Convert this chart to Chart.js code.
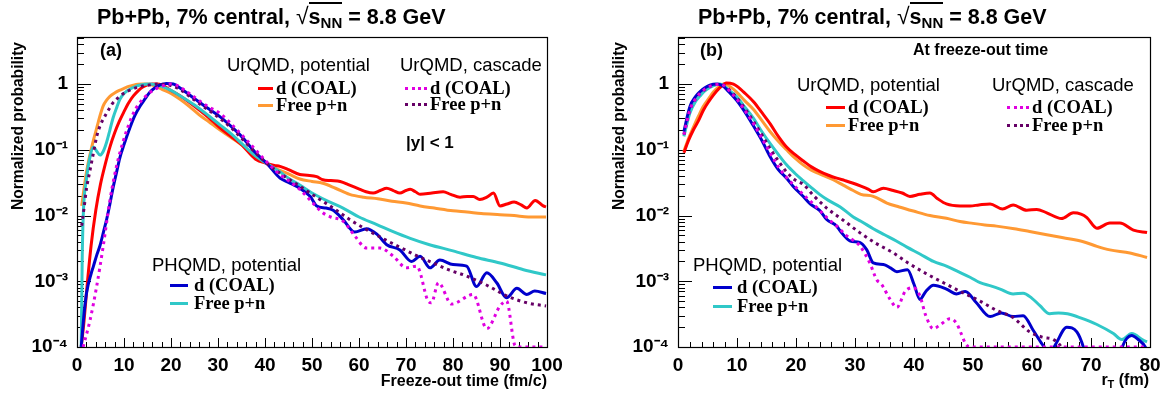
<!DOCTYPE html>
<html><head><meta charset="utf-8">
<script src="https://cdn.jsdelivr.net/npm/chart.js@4.4.1/dist/chart.umd.min.js"></script>
<style>
body{margin:0;background:#fff;width:1173px;height:398px;overflow:hidden;position:relative;font-family:"Liberation Sans",Arial,sans-serif;color:#000}
.pnl{position:absolute;top:0;height:398px}
.t{position:absolute;white-space:nowrap;z-index:5}
.sans{font-family:"Liberation Sans",Arial,sans-serif}
.serif{font-family:"Liberation Serif","Times New Roman",serif;font-weight:bold}
.b{font-weight:bold}
.smp{position:absolute;z-index:5;height:0}
</style></head>
<body>
<div class="pnl" style="left:0;width:586px"><canvas id="c1" width="586" height="398"></canvas></div>
<div class="pnl" style="left:586px;width:587px"><canvas id="c2" width="587" height="398"></canvas></div>
<div id="ov"></div>
<script>
// ---------- DATA: panel (a) freeze-out time (fm/c) vs normalized probability ----------
const timeUrqmdPotD = [[0.9,1e-4],[1.5,2.5e-4],[2,6.5e-4],[3,0.0035],[4,0.012],[5,0.03],[6,0.06],[7,0.11],[8,0.18],[9,0.27],[10,0.38],[11,0.52],[12,0.66],[13,0.79],[14,0.9],[15,0.97],[16,1.0],[17,1.0],[18,0.97],[20,0.8],[22,0.66],[25,0.46],[28,0.31],[30,0.23],[33,0.155],[35,0.12],[38,0.072],[40.4,0.062],[42,0.058],[43.2,0.056],[45,0.05],[47.4,0.042],[49,0.041],[51,0.039],[52.3,0.035],[54,0.034],[56,0.033],[58,0.029],[60.2,0.025],[61.5,0.023],[63,0.022],[64.5,0.024],[65.9,0.026],[67.3,0.024],[68.7,0.022],[70,0.024],[70.9,0.025],[72,0.023],[73,0.021],[75.5,0.022],[77.9,0.023],[79.5,0.021],[81.5,0.019],[83,0.0195],[84.3,0.0195],[85.7,0.0175],[87.2,0.019],[88.6,0.022],[90,0.014],[91.5,0.015],[93,0.016],[94.5,0.0145],[95.7,0.013],[97.5,0.017],[99.2,0.014],[99.8,0.0135]];
const timeUrqmdPotPN = [[1,0.014],[1.5,0.026],[2,0.045],[2.5,0.07],[3,0.1],[3.5,0.14],[4,0.19],[4.5,0.26],[5,0.35],[5.6,0.47],[6.3,0.57],[7,0.65],[8,0.73],[9,0.8],[10,0.86],[11,0.92],[12,0.96],[13,0.99],[14,1.0],[15,1.0],[16,0.97],[17,0.91],[18,0.84],[20,0.72],[22,0.58],[24,0.45],[26,0.34],[28,0.27],[30,0.21],[33,0.15],[36,0.105],[38,0.08],[40.4,0.062],[42,0.053],[45,0.043],[47.4,0.036],[50,0.033],[52.3,0.031],[55,0.026],[58,0.021],[61,0.019],[64,0.018],[67,0.0165],[70,0.0155],[73,0.014],[76,0.013],[80,0.0118],[83,0.0113],[86,0.0107],[90,0.0103],[93,0.0100],[96,0.0095],[99.8,0.0095]];
const timeUrqmdCasD = [[1.3,1e-4],[2.8,2.6e-4],[4.2,8.5e-4],[5.6,0.0035],[7,0.017],[8.4,0.056],[9.9,0.14],[11,0.24],[12,0.36],[13,0.48],[14.1,0.6],[15.5,0.74],[17,0.86],[18.5,0.95],[19.8,1.0],[21,0.97],[23,0.8],[25,0.63],[28,0.45],[30.4,0.36],[33,0.24],[35,0.17],[38,0.1],[40.4,0.065],[43,0.043],[45,0.034],[47.4,0.025],[50,0.016],[52.3,0.011],[54,0.0095],[56.6,0.0082],[59.1,0.0049],[61.6,0.0032],[64.5,0.0032],[67.3,0.0024],[70.1,0.0016],[72.3,0.0017],[74.7,0.0005],[75.4,0.00047],[76.9,0.00095],[79.7,0.00045],[84.3,0.00063],[87.2,0.00019],[90,0.00042],[91.4,0.0005],[93.2,1.05e-4],[94,1e-4],[99.8,1e-4]];
const timeUrqmdCasPN = [[1,0.007],[1.5,0.013],[2,0.025],[2.8,0.05],[3.5,0.09],[4.2,0.16],[5,0.24],[6.3,0.36],[7.5,0.5],[9.1,0.65],[10.5,0.76],[12,0.85],[13.5,0.92],[15.5,0.97],[17.5,1.0],[19,0.98],[20.5,0.92],[22,0.82],[25,0.57],[28,0.4],[30.4,0.3],[33,0.21],[35,0.15],[38,0.09],[40.4,0.062],[43,0.045],[45,0.036],[47.4,0.028],[50,0.021],[54.5,0.013],[58,0.0087],[61.6,0.0061],[65,0.0045],[68.7,0.0033],[72,0.0025],[75.8,0.0019],[79,0.0015],[82.9,0.0012],[87.2,0.00087],[91.4,0.0006],[95.7,0.00047],[99.8,0.00042]];
const timePhqmdD = [[0.9,1e-4],[1.5,3.2e-4],[2.06,6.8e-4],[3,0.0013],[3.5,0.0017],[4.2,0.0025],[4.9,0.0035],[5.6,0.0055],[6.3,0.0087],[7,0.015],[7.7,0.027],[8.4,0.045],[9.1,0.075],[10,0.12],[11.3,0.22],[12.3,0.33],[13.4,0.46],[14.5,0.6],[15.5,0.75],[16.6,0.88],[17.7,0.97],[19,1.02],[20.5,1.0],[22,0.86],[25,0.6],[28,0.42],[30.4,0.32],[33,0.22],[35,0.16],[38,0.09],[40.4,0.062],[43.2,0.037],[45,0.032],[47.4,0.026],[49.6,0.0196],[51,0.014],[53,0.013],[54.5,0.012],[56.6,0.0087],[59.1,0.0056],[61.6,0.0063],[63.8,0.0052],[65.9,0.0036],[68.7,0.003],[71.2,0.002],[73,0.0024],[75.1,0.0016],[77.2,0.0021],[80,0.0018],[82.9,0.0017],[85,0.00083],[87.2,0.00135],[89.3,0.00095],[91.4,0.00056],[93.6,0.00078],[95.7,0.00063],[97.4,0.00071],[99.8,0.00065]];
const timePhqmdPN = [[0.9,1e-4],[1.1,0.002],[1.35,0.011],[2,0.035],[2.8,0.08],[3.5,0.11],[4.2,0.095],[4.9,0.083],[5.6,0.095],[6.3,0.13],[7,0.2],[7.7,0.31],[8.5,0.45],[9.1,0.58],[10,0.72],[11.3,0.84],[12.5,0.92],[13.5,0.97],[15.5,1.0],[17,0.97],[18,0.92],[20,0.8],[22,0.66],[25,0.48],[28,0.33],[30.4,0.24],[33,0.17],[35,0.125],[38,0.08],[40.4,0.062],[43,0.047],[45,0.037],[47.4,0.029],[50,0.022],[53,0.017],[56.6,0.013],[60,0.0095],[63.8,0.0073],[67,0.0058],[70.9,0.0045],[75,0.0036],[80,0.0029],[85,0.0023],[90,0.0019],[95,0.0015],[99.8,0.00125]];

// ---------- DATA: panel (b) r_T (fm) vs normalized probability ----------
const rtUrqmdPotD = [[1,0.09],[1.8,0.14],[2.6,0.2],[3.5,0.28],[4.3,0.4],[5.2,0.54],[6,0.68],[7.1,0.88],[8.2,1.04],[9.4,1.0],[10.2,0.9],[11.1,0.76],[12.8,0.54],[14.2,0.37],[15.6,0.25],[17,0.16],[18.4,0.11],[19.8,0.085],[21.2,0.068],[22.6,0.055],[24,0.047],[25.5,0.041],[26.9,0.037],[28.3,0.034],[29.7,0.031],[31,0.028],[32.3,0.025],[33.1,0.023],[34.8,0.026],[36.5,0.024],[38,0.022],[39.3,0.0195],[41,0.021],[42.7,0.022],[44,0.018],[45.5,0.015],[47.8,0.014],[49.5,0.014],[51,0.0145],[52.9,0.015],[55,0.0126],[56.8,0.0145],[59.1,0.012],[60.8,0.0124],[62.5,0.011],[65,0.009],[67,0.011],[68.3,0.0105],[69.3,0.0093],[71,0.0064],[73.2,0.0077],[74.9,0.0077],[77.2,0.006],[79.5,0.0055]];
const rtUrqmdPotPN = [[1,0.095],[1.8,0.15],[2.6,0.22],[3.5,0.33],[4.3,0.46],[5.2,0.6],[6,0.76],[7,0.92],[7.7,1.0],[8.5,0.95],[9.9,0.76],[11.3,0.56],[12.8,0.41],[14.2,0.28],[15.6,0.19],[17,0.135],[18.4,0.1],[19.8,0.075],[21.2,0.059],[22.6,0.049],[24,0.043],[26.3,0.035],[28,0.029],[29.7,0.024],[31,0.021],[33.1,0.0196],[35.4,0.0155],[37.5,0.0135],[39.9,0.0117],[42.7,0.01],[45.5,0.0091],[47.8,0.0081],[50,0.0076],[52,0.0072],[54,0.0069],[57,0.0063],[59.6,0.0057],[62.5,0.0051],[65.3,0.0046],[68.7,0.004],[71,0.0034],[73.2,0.003],[76.6,0.0027],[79.5,0.0023]];
const rtUrqmdCasD = [[1,0.17],[2,0.4],[3,0.6],[4.5,0.83],[5.5,0.93],[6.5,0.98],[7.1,1.0],[8,0.92],[9,0.74],[9.9,0.6],[11.3,0.4],[12.8,0.25],[14.2,0.15],[15.6,0.09],[17,0.055],[18.4,0.038],[19.8,0.028],[21.2,0.021],[22.6,0.016],[24,0.012],[25.5,0.0088],[27,0.0068],[28.5,0.005],[29.7,0.0042],[30.8,0.0035],[32.5,0.0019],[33.7,0.00105],[34.5,0.0009],[35.9,0.00054],[37.1,0.0004],[38.5,0.0007],[39.9,0.0008],[41,0.0006],[42,0.0003],[43.3,0.00019],[44.5,0.00022],[46.1,0.00027],[47.2,0.00023],[48,0.00016],[48.8,1.1e-4],[49.5,1e-4],[79.5,1e-4]];
const rtUrqmdCasPN = [[1,0.17],[2,0.4],[3,0.6],[4.5,0.82],[5.5,0.93],[6.5,0.98],[7.1,1.0],[8,0.93],[9,0.77],[9.9,0.63],[11.3,0.43],[12.8,0.27],[14.2,0.17],[15.6,0.105],[17,0.068],[18.4,0.046],[19.8,0.035],[21.2,0.03],[23,0.02],[25.2,0.013],[28,0.0085],[30.8,0.0055],[33.5,0.0038],[36.5,0.0027],[39,0.0019],[42.1,0.0013],[45,0.00095],[48.1,0.00068],[51.2,0.0005],[54,0.00036],[56.8,0.00028],[59.6,0.00017],[61.9,0.00014],[63.6,0.00013],[64.8,1.05e-4],[66,6e-5],[79.5,5e-5]];
const rtPhqmdD = [[1,0.19],[2,0.45],[3,0.65],[3.7,0.76],[4.5,0.87],[5.4,0.96],[6.5,1.0],[7.5,0.95],[8.5,0.78],[9.9,0.57],[11.3,0.38],[12.8,0.23],[14.2,0.14],[15.6,0.079],[17,0.05],[18.4,0.037],[19.5,0.028],[21.2,0.0196],[22.4,0.015],[24,0.012],[25.2,0.0087],[26.9,0.0069],[27.5,0.0058],[29.2,0.0041],[30.8,0.0039],[32,0.003],[33.1,0.0019],[34.8,0.0018],[36,0.0016],[37.1,0.0014],[38.9,0.0015],[40,0.0009],[41,0.00053],[42,0.0007],[43.3,0.00087],[45.5,0.00076],[47.2,0.00064],[48.7,0.0007],[50.5,0.00048],[52.9,0.00029],[54.8,0.00033],[56.8,0.00029],[58.5,0.0003],[60.2,0.00018],[61.9,1.05e-4],[63,8e-5],[64,1.1e-4],[65.9,0.0002],[67.6,0.00017],[68.7,1e-4],[69.5,5e-5],[74.5,5e-5],[75.3,1e-4],[76.9,0.00015],[78,0.00013],[79.2,1e-4],[79.6,8e-5]];
const rtPhqmdPN = [[1,0.16],[2,0.36],[3,0.55],[3.7,0.65],[4.5,0.78],[5.4,0.89],[6.5,0.98],[7.1,1.0],[8,0.9],[9,0.76],[9.9,0.65],[11.3,0.45],[12.8,0.3],[14.2,0.19],[15.6,0.125],[17,0.085],[18.4,0.059],[19.8,0.044],[21.2,0.034],[22.5,0.027],[24,0.021],[25.5,0.017],[27.5,0.0135],[29.7,0.0095],[31,0.0082],[33.1,0.0063],[35,0.0051],[37,0.0041],[38.8,0.0033],[41,0.0026],[43.3,0.002],[45.5,0.0017],[47.5,0.0014],[49.5,0.00115],[51.2,0.00095],[53,0.00085],[54.6,0.00076],[56.8,0.00064],[58.5,0.00066],[60,0.00055],[61.3,0.00043],[63,0.00032],[64.5,0.00033],[66,0.00032],[68.1,0.00028],[71,0.00022],[73.8,0.00016],[75.2,0.00013],[76.9,0.00016],[78.9,0.000126],[79.5,0.00012]];

// axis tick values
const xTicksA = [0,10,20,30,40,50,60,70,80,90,100];
const xTicksB = [0,10,20,30,40,50,60,70,80];
const yDecades = [-4,-3,-2,-1,0];

// ---------- styles ----------
const COL = {red:'#ff0000', orange:'#ff9933', magenta:'#e000e0', purple:'#660066', blue:'#0000cc', cyan:'#30c8c8'};
const FONT = '"Liberation Sans", Arial, sans-serif';
const SUP = {'-':'\u207B','0':'\u2070','1':'\u00B9','2':'\u00B2','3':'\u00B3','4':'\u2074'};

function ds(pairs, color, dotted){
  return {data: pairs.map(p=>({x:p[0], y:p[1]})), borderColor: color, backgroundColor: color,
    borderWidth: 3, pointRadius: 0, cubicInterpolationMode: 'monotone', fill:false,
    borderDash: dotted ? [3,4] : [], borderCapStyle:'butt', borderJoinStyle:'round'};
}

function logTickValues(max){
  const t=[];
  for(const e of yDecades){ for(let m=1;m<=9;m++){ const v=m*Math.pow(10,e); if(v<=max) t.push({value:v}); } }
  return t;
}
function isDecade(v){ const l=Math.log10(v); return Math.abs(l-Math.round(l))<1e-6; }

const frameTicks = {
  id:'frameTicks',
  beforeDatasetsDraw(chart){
    const {ctx, chartArea:a, scales:{x,y}} = chart;
    ctx.save();
    ctx.strokeStyle='#000'; ctx.lineWidth=1;
    ctx.beginPath();
    const xmax = x.max;
    for(let v=0; v<=xmax+1e-9; v+=2){
      const px=Math.round(x.getPixelForValue(v))+0.5;
      const L=(Math.abs(v%10)<1e-9)?9:5;
      ctx.moveTo(px,a.bottom); ctx.lineTo(px,a.bottom-L);
    }
    for(const t of y.ticks){
      const py=Math.round(y.getPixelForValue(t.value))+0.5;
      const L=isDecade(t.value)?14:7;
      ctx.moveTo(a.left,py); ctx.lineTo(a.left+L,py);
    }
    ctx.stroke();
    ctx.lineWidth=1.2;
    ctx.strokeRect(Math.round(a.left)+0.5, Math.round(a.top)+0.5, Math.round(a.right-a.left), Math.round(a.bottom-a.top));
    ctx.restore();
  }
};

function makeChart(id, datasets, xMax, xTicks, yw, rp){
  return new Chart(document.getElementById(id), {
    type:'line',
    data:{datasets},
    plugins:[frameTicks],
    options:{
      responsive:false, animation:false, devicePixelRatio:1,
      layout:{padding:{top:37,right:rp,left:0,bottom:0}},
      plugins:{legend:{display:false}, tooltip:{enabled:false}, title:{display:false}},
      scales:{
        x:{type:'linear', min:0, max:xMax,
          afterBuildTicks:s=>{ s.ticks = xTicks.map(v=>({value:v})); },
          afterFit:s=>{ s.height=51; },
          grid:{display:false, drawTicks:false}, border:{display:false},
          ticks:{autoSkip:false, maxRotation:0, padding:7, color:'#000', font:{family:FONT, weight:'bold', size:19}}},
        y:{type:'logarithmic', min:1e-4, max:5.2,
          afterBuildTicks:s=>{ s.ticks = logTickValues(5.2); },
          afterFit:s=>{ s.width=yw; },
          grid:{display:false, drawTicks:false}, border:{display:false},
          ticks:{autoSkip:false, padding:9, color:'#000', font:{family:FONT, weight:'bold', size:19},
            callback:(v)=>{ if(!isDecade(v)) return ''; const e=Math.round(Math.log10(v)); if(e===0) return '1'; return '10'+String(e).split('').map(c=>SUP[c]).join(''); }}}
      }
    }
  });
}

makeChart('c1', [
  ds(timeUrqmdCasD, COL.magenta, true),
  ds(timeUrqmdCasPN, COL.purple, true),
  ds(timePhqmdD, COL.blue, false),
  ds(timePhqmdPN, COL.cyan, false),
  ds(timeUrqmdPotD, COL.red, false),
  ds(timeUrqmdPotPN, COL.orange, false)
], 100, xTicksA, 77, 39);

makeChart('c2', [
  ds(rtUrqmdCasD, COL.magenta, true),
  ds(rtUrqmdCasPN, COL.purple, true),
  ds(rtPhqmdD, COL.blue, false),
  ds(rtPhqmdPN, COL.cyan, false),
  ds(rtUrqmdPotD, COL.red, false),
  ds(rtUrqmdPotPN, COL.orange, false)
], 80, xTicksB, 92, 23);

// ---------- text overlays ----------
const ov = document.getElementById('ov');
function lab(html, x, cy, cls, size, align){
  const d=document.createElement('div');
  d.className='t '+cls; d.innerHTML=html;
  d.style.fontSize=size+'px'; d.style.lineHeight='30px'; d.style.height='30px';
  d.style.top=(cy-15)+'px';
  if(align==='right'){ d.style.right=(1173-x)+'px'; } else { d.style.left=x+'px'; }
  ov.appendChild(d); return d;
}
function sample(x1, x2, y, color, dotted){
  const d=document.createElement('div'); d.className='smp';
  d.style.left=x1+'px'; d.style.width=(x2-x1)+'px'; d.style.top=(y-1.5)+'px';
  d.style.borderTop='3px '+(dotted?'dotted ':'solid ')+color;
  ov.appendChild(d);
}
const TITLE='Pb+Pb, 7% central, <span style="font-weight:normal;font-size:23px">\u221A</span><span style="border-top:2px solid #000;padding-top:1px">s<sub style="font-size:15px;vertical-align:-4px">NN</sub></span> = 8.8 GeV';
lab(TITLE, 97, 16, 'sans b', 21.5);
lab(TITLE, 698, 16, 'sans b', 21.5);

// panel (a)
lab('(a)', 100, 50, 'sans b', 18);
lab('UrQMD, potential', 227, 65, 'sans', 18.5);
sample(258, 273, 88, COL.red, false); lab('d (COAL)', 276, 88, 'serif', 18.5);
sample(258, 273, 105, COL.orange, false); lab('Free p+n', 276, 105, 'serif', 18.5);
lab('UrQMD, cascade', 400, 65, 'sans', 18.5);
sample(405, 427, 88, COL.magenta, true); lab('d (COAL)', 430, 88, 'serif', 18.5);
sample(405, 427, 104, COL.purple, true); lab('Free p+n', 430, 104, 'serif', 18.5);
lab('|y| &lt; 1', 406, 143, 'sans b', 17);
lab('PHQMD, potential', 152, 265, 'sans', 18.5);
sample(170, 188, 285, COL.blue, false); lab('d (COAL)', 194, 285, 'serif', 18.5);
sample(170, 188, 303, COL.cyan, false); lab('Free p+n', 194, 303, 'serif', 18.5);

// panel (b)
lab('(b)', 700, 50, 'sans b', 18);
lab('At freeze-out time', 913, 50, 'sans b', 16);
lab('UrQMD, potential', 797, 85, 'sans', 18.5);
sample(826, 845, 107, COL.red, false); lab('d (COAL)', 848, 107, 'serif', 18.5);
sample(826, 845, 125, COL.orange, false); lab('Free p+n', 848, 125, 'serif', 18.5);
lab('UrQMD, cascade', 992, 85, 'sans', 18.5);
sample(1007, 1029, 107, COL.magenta, true); lab('d (COAL)', 1032, 107, 'serif', 18.5);
sample(1007, 1029, 125, COL.purple, true); lab('Free p+n', 1032, 125, 'serif', 18.5);
lab('PHQMD, potential', 693, 265, 'sans', 18.5);
sample(713, 732, 287, COL.blue, false); lab('d (COAL)', 737, 287, 'serif', 18.5);
sample(713, 732, 306, COL.cyan, false); lab('Free p+n', 737, 306, 'serif', 18.5);

// axis titles
lab('Freeze-out time (fm/c)', 547, 381, 'sans b', 16, 'right');
lab('r<sub style="font-size:11px;vertical-align:-3px">T</sub> (fm)', 1149, 380, 'sans b', 16, 'right');
function ytitle(cx){
  const d=document.createElement('div'); d.className='t sans b';
  d.textContent='Normalized probability';
  d.style.fontSize='15.6px'; d.style.width='200px'; d.style.textAlign='right';
  d.style.height='18px'; d.style.lineHeight='18px';
  d.style.left=(cx-9)+'px'; d.style.top=(42+200)+'px';
  d.style.transformOrigin='0 0'; d.style.transform='rotate(-90deg)';
  ov.appendChild(d);
}
ytitle(18); ytitle(619);
</script>
</body></html>
